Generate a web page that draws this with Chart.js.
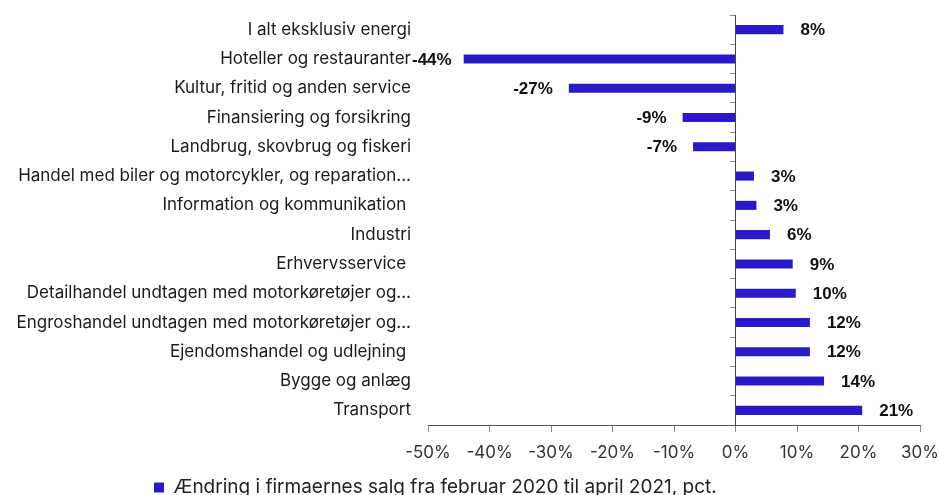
<!DOCTYPE html>
<html>
<head>
<meta charset="utf-8">
<script src="https://cdn.jsdelivr.net/npm/chart.js@4.4.1/dist/chart.umd.min.js"></script>
<style>
  html, body { margin: 0; padding: 0; background: #fff; }
  #wrap { width: 939px; height: 495px; position: relative; }
</style>
</head>
<body>
<div id="wrap"><canvas id="salesChart"></canvas></div>
<script>
// ===== DATA =====
const categories = [
  "I alt eksklusiv energi",
  "Hoteller og restauranter",
  "Kultur, fritid og anden service",
  "Finansiering og forsikring",
  "Landbrug, skovbrug og fiskeri",
  "Handel med biler og motorcykler, og reparation...",
  "Information og kommunikation ",
  "Industri",
  "Erhvervsservice ",
  "Detailhandel undtagen med motorkøretøjer og...",
  "Engroshandel undtagen med motorkøretøjer og...",
  "Ejendomshandel og udlejning ",
  "Bygge og anlæg",
  "Transport"
];

const salesChange = [7.8, -44.2, -27.1, -8.6, -6.9, 3.0, 3.4, 5.6, 9.3, 9.8, 12.1, 12.1, 14.4, 20.6];

const seriesLabel = "Ændring i firmaernes salg fra februar 2020 til april 2021, pct.";

const xMin = -50;
const xMax = 30;
const xStep = 10;

const barColor = "#2a19c8";

// ===== PLUGINS =====
// bold value labels next to each bar end
const valueLabels = {
  id: "valueLabels",
  afterDatasetsDraw(chart) {
    const { ctx, chartArea } = chart;
    const meta = chart.getDatasetMeta(0);
    ctx.save();
    ctx.font = 'bold 17px "Liberation Sans", Arial, sans-serif';
    ctx.fillStyle = "#111";
    ctx.textBaseline = "middle";
    meta.data.forEach((bar, i) => {
      const v = salesChange[i];
      const text = Math.round(v) + "%";
      if (v >= 0) {
        ctx.textAlign = "left";
        ctx.fillText(text, bar.x + 17, bar.y + 1);
      } else {
        ctx.textAlign = "right";
        const w = ctx.measureText(text).width;
        const x = Math.max(bar.x - 16, chartArea.left - 16 + w);
        ctx.fillText(text, x, bar.y + 1);
      }
    });
    ctx.restore();
  }
};

// legend sits left of centre in the original
const legendShift = {
  id: "legendShift",
  afterLayout(chart) {
    if (chart.legend) chart.legend.left = 154;
  }
};

// ===== CHART =====
const ctx = document.getElementById("salesChart").getContext("2d");

new Chart(ctx, {
  type: "bar",
  data: {
    labels: categories,
    datasets: [{
      label: seriesLabel,
      data: salesChange,
      backgroundColor: barColor,
      borderColor: barColor,
      borderWidth: 0,
      barPercentage: 0.62,
      categoryPercentage: 0.5
    }]
  },
  options: {
    indexAxis: "y",
    responsive: true,
    maintainAspectRatio: false,
    animation: false,
    layout: {
      padding: { top: 15, right: 19, left: 0, bottom: -12 }
    },
    plugins: {
      legend: {
        position: "bottom",
        align: "start",
        labels: {
          boxWidth: 10,
          boxHeight: 10,
          padding: 0,
          color: "#222",
          font: { size: 19, family: "Inter" }
        }
      },
      tooltip: { enabled: false }
    },
    scales: {
      x: {
        min: xMin,
        max: xMax,
        grid: {
          drawOnChartArea: false,
          drawTicks: true,
          tickLength: 7,
          color: "#888"
        },
        border: { display: true, color: "#555" },
        ticks: {
          stepSize: xStep,
          padding: 11,
          color: "#333",
          font: { size: 17, family: "Inter" },
          callback: val => val + "%"
        },
        afterFit: scale => {
          scale.height = 53;
          scale.paddingLeft = 0;
          scale.paddingRight = 0;
        }
      },
      y: {
        grid: { display: false, drawTicks: false },
        border: { display: false },
        ticks: {
          padding: 17,
          color: "#1a1a1a",
          font: { size: 17, family: "Inter" }
        },
        afterFit: scale => {
          scale.width = 428;
          scale.paddingTop = 0;
          scale.paddingBottom = 0;
        }
      },
      yZero: {
        type: "category",
        labels: categories,
        position: { x: 0 },
        offset: true,
        grid: {
          offset: true,
          drawOnChartArea: false,
          drawTicks: true,
          tickLength: 5,
          color: "#888"
        },
        border: { display: true, color: "#444" },
        ticks: { display: false }
      }
    }
  },
  plugins: [valueLabels, legendShift]
});
</script>
</body>
</html>
